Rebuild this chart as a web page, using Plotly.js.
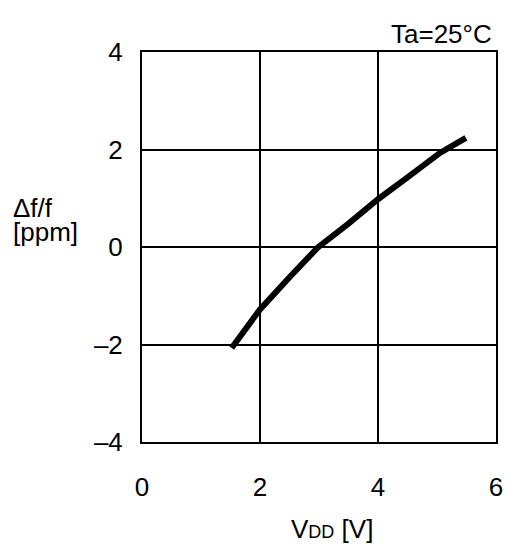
<!DOCTYPE html>
<html>
<head>
<meta charset="utf-8">
<script src="https://cdn.plot.ly/plotly-3.0.1.min.js"></script>
<style>html,body{margin:0;padding:0;background:#fff;}#chart{width:513px;height:544px;}</style>
</head>
<body>
<div id="chart"></div>
<script>
// Data
const vdd = [1.52, 2.0, 2.5, 2.98, 3.5, 4.0, 4.5, 5.05, 5.49];
const dff = [-2.07, -1.28, -0.62, -0.01, 0.48, 0.98, 1.43, 1.93, 2.24];
const xTickVals = [0, 2, 4, 6];
const xTickText = ['0', '2', '4', '6'];
const yTickVals = [-4, -2, 0, 2, 4];
const yTickText = ['\u20134', '\u20132', '0', '2', '4'];

const FONT = 'Arial, "Liberation Sans", sans-serif';
const FS = 26;

const trace = {
  x: vdd, y: dff, type: 'scatter', mode: 'lines',
  line: {color: '#000', width: 6},
  hoverinfo: 'skip'
};

const layout = {
  width: 513, height: 544,
  margin: {l: 142, r: 17, t: 52, b: 102, pad: 0},
  paper_bgcolor: '#fff', plot_bgcolor: '#fff',
  showlegend: false,
  font: {family: FONT, size: FS, color: '#000'},
  xaxis: {
    range: [0, 6], tickvals: xTickVals, ticktext: xTickText,
    showgrid: true, gridcolor: '#000', gridwidth: 2,
    showline: true, linecolor: '#000', linewidth: 2, mirror: true,
    zeroline: false, ticks: '', ticklabelstandoff: 21,
    tickfont: {family: FONT, size: FS, color: '#000'}, fixedrange: true
  },
  yaxis: {
    range: [-4, 4], tickvals: yTickVals, ticktext: yTickText,
    showgrid: true, gridcolor: '#000', gridwidth: 2,
    showline: true, linecolor: '#000', linewidth: 2, mirror: true,
    zeroline: false, ticks: '', ticklabelstandoff: 12,
    tickfont: {family: FONT, size: FS, color: '#000'}, fixedrange: true
  },
  annotations: [
    {text: 'V<span style="font-size:18px">DD</span> [V]', xref: 'paper', yref: 'paper', x: 0.538, y: -0.222,
     xanchor: 'center', yanchor: 'middle', showarrow: false,
     font: {family: FONT, size: FS, color: '#000'}},
    {text: '\u0394f/f', xref: 'paper', yref: 'paper', x: -0.370, y: 0.600,
     xanchor: 'left', yanchor: 'middle', align: 'left', showarrow: false,
     font: {family: FONT, size: FS, color: '#000'}},
    {text: '[ppm]', xref: 'paper', yref: 'paper', x: -0.370, y: 0.5377,
     xanchor: 'left', yanchor: 'middle', align: 'left', showarrow: false,
     font: {family: FONT, size: FS, color: '#000'}},
    {text: 'Ta=25\u00b0C', xref: 'paper', yref: 'paper', x: 0.9935, y: 1.0454,
     xanchor: 'right', yanchor: 'middle', showarrow: false,
     font: {family: FONT, size: FS, color: '#000'}}
  ]
};

Plotly.newPlot('chart', [trace], layout, {displayModeBar: false, staticPlot: true});
</script>
</body>
</html>
